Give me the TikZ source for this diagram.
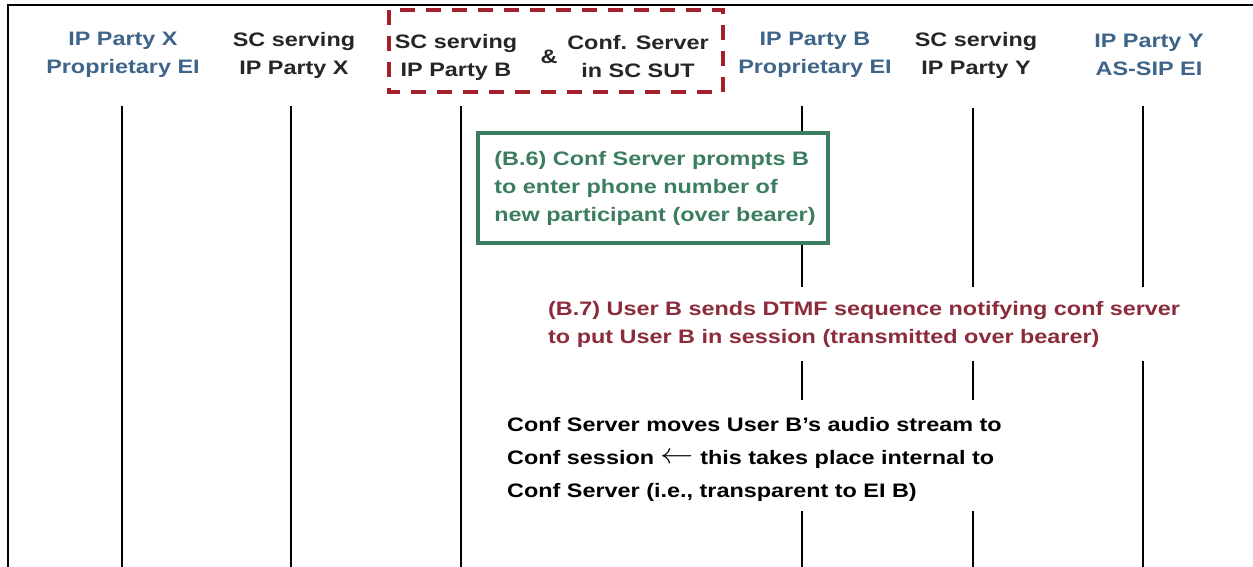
\documentclass[tikz,border=0pt]{standalone}
\usepackage{fontspec}
\setmainfont{Liberation Sans}[FakeStretch=1.2]
\definecolor{hdrblue}{RGB}{62,100,138}
\definecolor{hdrdark}{RGB}{38,38,38}
\definecolor{grn}{RGB}{59,125,95}
\definecolor{redtxt}{RGB}{139,43,59}
\definecolor{reddash}{RGB}{163,32,45}
\newcommand\dfont{\fontsize{19.5}{28}\selectfont\bfseries}
\newcommand\bigleft{\raisebox{0.5pt}{\scalebox{1.6}[1.4]{$\leftarrow$}}}
\tikzset{
  hdr/.style={font=\dfont, align=center, inner sep=0pt},
  hdrB/.style={hdr, text=hdrblue},
  hdrK/.style={hdr, text=hdrdark},
  life/.style={line width=1.8pt, black},
  frame/.style={line width=2.5pt, black},
  sutbox/.style={draw=reddash, line width=4pt, dash pattern=on 15pt off 11pt},
  notebox/.style={draw=grn, line width=3.5pt, fill=white, text=grn, font=\dfont, align=left, minimum width=350pt, minimum height=110pt, inner sep=0pt},
  rednote/.style={font=\dfont, text=redtxt, align=left, inner sep=0pt},
  blknote/.style={font=\fontsize{19.5}{33}\selectfont\bfseries, text=black, align=left, inner sep=0pt}
}
\begin{document}
\begin{tikzpicture}[x=1pt,y=-1pt]
\useasboundingbox (0,0) rectangle (1253,567);
\fill[white] (0,0) rectangle (1253,567);
% frame
\draw[frame] (8,567) -- (8,5) -- (1253,5);
% headers
\node[hdrB] (hx) at (123,55) {IP Party X\\Proprietary EI};
\node[hdrK] (scx) at (294,55) {SC serving\\IP Party X};
\node[hdrK] (scb) at (456,57) {SC serving\\IP Party B};
\node[hdrK] (amp) at (549,57) {\&};
\node[hdrK] (cs) at (638,57) {Conf. Server\\in SC SUT};
\node[hdrB] (hb) at (815,55) {IP Party B\\Proprietary EI};
\node[hdrK] (scy) at (976,55) {SC serving\\IP Party Y};
\node[hdrB] (hy) at (1149,55) {IP Party Y\\AS-SIP EI};
\draw[sutbox] (389,10) rectangle (723,92);
% lifeline coordinates
\coordinate (lx1) at (122,106);  \coordinate (lx2) at (122,567);
\coordinate (ls1) at (291,106);  \coordinate (ls2) at (291,567);
\coordinate (lb1) at (461,106);  \coordinate (lb2) at (461,567);
\coordinate (le1) at (802,106);  \coordinate (le2) at (802,287);
\coordinate (le3) at (802,361);  \coordinate (le4) at (802,400);
\coordinate (le5) at (802,511);  \coordinate (le6) at (802,567);
\coordinate (ly1) at (973,108);  \coordinate (ly2) at (973,287);
\coordinate (ly3) at (973,361);  \coordinate (ly4) at (973,400);
\coordinate (ly5) at (973,511);  \coordinate (ly6) at (973,567);
\coordinate (lz1) at (1143,106); \coordinate (lz2) at (1143,287);
\coordinate (lz3) at (1143,361); \coordinate (lz4) at (1143,567);
\draw[life] (lx1) -- (lx2);
\draw[life] (ls1) -- (ls2);
\draw[life] (lb1) -- (lb2);
\draw[life] (le1) -- (le2); \draw[life] (le3) -- (le4); \draw[life] (le5) -- (le6);
\draw[life] (ly1) -- (ly2); \draw[life] (ly3) -- (ly4); \draw[life] (ly5) -- (ly6);
\draw[life] (lz1) -- (lz2); \draw[life] (lz3) -- (lz4);
% notes
\node[notebox] (b6) at (653,188) {\hspace*{4pt}(B.6) Conf Server prompts B\\\hspace*{4pt}to enter phone number of\\\hspace*{4pt}new participant (over bearer)};
\node[rednote, anchor=west] (b7) at (548,324) {(B.7) User B sends DTMF sequence notifying conf server\\to put User B in session (transmitted over bearer)};
\node[blknote, anchor=west] (mv) at (507,459) {Conf Server moves User B’s audio stream to\\Conf session \bigleft\ this takes place internal to\\Conf Server (i.e., transparent to EI B)};
\end{tikzpicture}
\end{document}
